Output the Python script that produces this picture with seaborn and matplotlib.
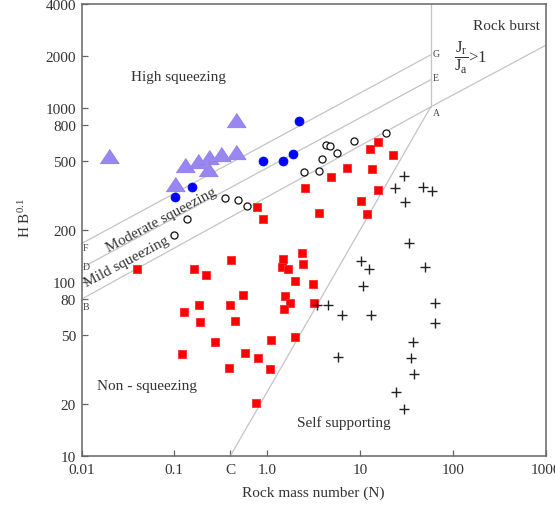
import numpy as np
import pandas as pd
import matplotlib
matplotlib.use("Agg")
import matplotlib.pyplot as plt
from matplotlib.ticker import NullLocator
import seaborn as sns

# ---------------- data ----------------
tri_N = [0.0196, 0.462, 0.130, 0.181, 0.238, 0.321, 0.462, 0.231, 0.1025]
tri_H = [534, 860, 472, 500, 523, 546, 563, 448, 367]

blue_N = [0.1025, 0.157, 0.893, 1.47, 1.88, 2.22]
blue_H = [310, 352, 496, 496, 546, 842]

open_N = [0.0983, 0.1357, 0.354, 0.489, 0.601, 2.50, 3.65, 3.87, 4.31, 4.80, 5.67, 8.55, 19.1]
open_H = [187, 230, 305, 296, 276, 432, 436, 509, 618, 605, 556, 646, 721]

red_N = [0.0399, 0.1615, 0.2196, 0.411, 0.544, 0.183, 0.394, 0.126, 0.189, 0.451,
         0.272, 0.121, 0.582, 0.800, 0.392, 1.10, 1.08, 0.759, 0.780, 0.910,
         2.56, 3.65, 4.88, 7.31, 10.3, 11.8, 13.4, 13.0, 15.8, 22.9,
         15.8, 2.35, 1.47, 2.41, 1.45, 1.69, 1.98, 3.12, 1.54, 1.78,
         1.52, 3.20, 1.98]
red_H = [120, 120, 110, 135, 84.5, 74.1, 73.6, 67.8, 58.9, 59.7,
         45.6, 38.9, 39.1, 36.9, 32.2, 46.8, 31.6, 20.2, 270, 232,
         348, 249, 404, 454, 294, 246, 446, 581, 643, 539,
         338, 148, 137, 127, 122, 119, 102, 97.4, 83.4, 76.4,
         70.5, 76.0, 48.7]

plus_N = [33.8, 10.3, 12.4, 49.8, 10.8, 3.48, 4.53, 64.9, 6.46, 13.2, 64.9,
          37.6, 5.85, 35.6, 38.5, 24.7, 29.6, 29.6, 24.1, 47.4, 59.3, 30.6]
plus_H = [168, 133, 120, 122, 94.8, 74.3, 74.3, 76.0, 64.9, 64.9, 58.1,
          45.6, 37.4, 36.6, 29.6, 23.4, 18.7, 407, 347, 352, 336, 288]

# boundary lines (N, H)
line_B_N = [0.01, 58, 1000]
line_B_H = [80, 1020, 2300]
line_D_N = [0.01, 58]
line_D_H = [121, 1460]
line_F_N = [0.01, 58]
line_F_H = [167, 2030]
line_C_N = [0.4, 58]
line_C_H = [10, 1020]
line_V_N = [58, 58]
line_V_H = [1020, 4000]

x_ticks = [0.01, 0.1, 0.4, 1.0, 10, 100, 1000]
x_labels = ["0.01", "0.1", "C", "1.0", "10", "100", "1000"]
y_ticks = [10, 20, 50, 80, 100, 200, 500, 800, 1000, 2000, 4000]
y_labels = ["10", "20", "50", "80", "100", "200", "500", "800", "1000", "2000", "4000"]

# ---------------- style ----------------
sns.set_theme(style="ticks")
plt.rcParams["font.family"] = ["Liberation Serif", "DejaVu Serif"]
plt.rcParams["mathtext.fontset"] = "custom"
plt.rcParams["mathtext.rm"] = "Liberation Serif"
plt.rcParams["mathtext.it"] = "Liberation Serif:italic"

TXT = "#333333"
fig = plt.figure(figsize=(5.55, 5.06), dpi=100)
ax = fig.add_axes([81.5 / 555, 1 - 457.3 / 506, 464 / 555, 452.7 / 506])
ax.set_xscale("log")
ax.set_yscale("log")
ax.set_xlim(0.01, 1000)
ax.set_ylim(10, 4000)

lc = "#c4c4c4"
for xs, ys in [(line_B_N, line_B_H), (line_D_N, line_D_H), (line_F_N, line_F_H),
               (line_C_N, line_C_H), (line_V_N, line_V_H)]:
    sns.lineplot(x=xs, y=ys, ax=ax, color=lc, linewidth=0.9, sort=False,
                 estimator=None, zorder=1)

tri_marker = [(-1, -0.75), (1, -0.75), (0, 0.75)]
sns.scatterplot(x=red_N, y=red_H, ax=ax, marker="s", s=40, color="#ff0000",
                edgecolor="#ff2a2a", linewidth=0.6, zorder=3)
sns.scatterplot(x=plus_N, y=plus_H, ax=ax, marker="+", s=45, color="#222222",
                linewidth=1.0, zorder=4)
sns.scatterplot(x=open_N, y=open_H, ax=ax, marker="o", s=26, color="white",
                edgecolor="#111111", linewidth=0.9, zorder=3)
sns.scatterplot(x=blue_N, y=blue_H, ax=ax, marker="o", s=42, color="#0000ff",
                edgecolor="#0000ff", linewidth=0.5, zorder=3)
sns.scatterplot(x=tri_N, y=tri_H, ax=ax, marker=tri_marker, s=190, color="#9a86f0",
                edgecolor="#8f7ae8", linewidth=0.6, zorder=3)

# ticks
ax.set_xticks(x_ticks)
ax.set_xticklabels(x_labels)
ax.set_yticks(y_ticks)
ax.set_yticklabels(y_labels)
ax.xaxis.set_minor_locator(NullLocator())
ax.yaxis.set_minor_locator(NullLocator())
ax.tick_params(direction="in", length=4, width=0.9, color="#666666",
               labelsize=11, labelcolor=TXT, pad=4)
ax.tick_params(axis="x", pad=5)
for sp in ax.spines.values():
    sp.set_color("#666666")
    sp.set_linewidth(1.1)

ax.set_xlabel("Rock mass number (N)", fontsize=11, color=TXT, labelpad=7)
ax.set_ylabel(r"H B$^{\mathrm{0.1}}$", fontsize=11, color=TXT)
ax.yaxis.set_label_coords(-0.105, 0.529)

# region annotations
kw = dict(transform=ax.transAxes, color=TXT, fontsize=11)
ax.text(0.208, 0.838, "High squeezing", ha="center", va="center", **kw)
ax.text(0.988, 0.951, "Rock burst", ha="right", va="center", **kw)
ax.text(0.803, 0.883, r"$\dfrac{\mathrm{J}_{\mathrm{r}}}{\mathrm{J}_{\mathrm{a}}}$>1",
        ha="left", va="center", transform=ax.transAxes, color=TXT, fontsize=12)
ax.text(0.171, 0.524, "Moderate squeezing", ha="center", va="center",
        rotation=28, rotation_mode="anchor", **kw)
ax.text(0.098, 0.431, "Mild squeezing", ha="center", va="center",
        rotation=28, rotation_mode="anchor", **kw)
ax.text(0.140, 0.156, "Non - squeezing", ha="center", va="center", **kw)
ax.text(0.566, 0.0764, "Self supporting", ha="center", va="center", **kw)

skw = dict(transform=ax.transAxes, color="#444444", fontsize=7, ha="left", va="center")
ax.text(0.002, 0.461, "F", **skw)
ax.text(0.002, 0.420, "D", **skw)
ax.text(0.002, 0.330, "B", **skw)
ax.text(0.7575, 0.889, "G", **skw)
ax.text(0.7575, 0.836, "E", **skw)
ax.text(0.7575, 0.760, "A", **skw)

fig.savefig("out.png", dpi=100)
